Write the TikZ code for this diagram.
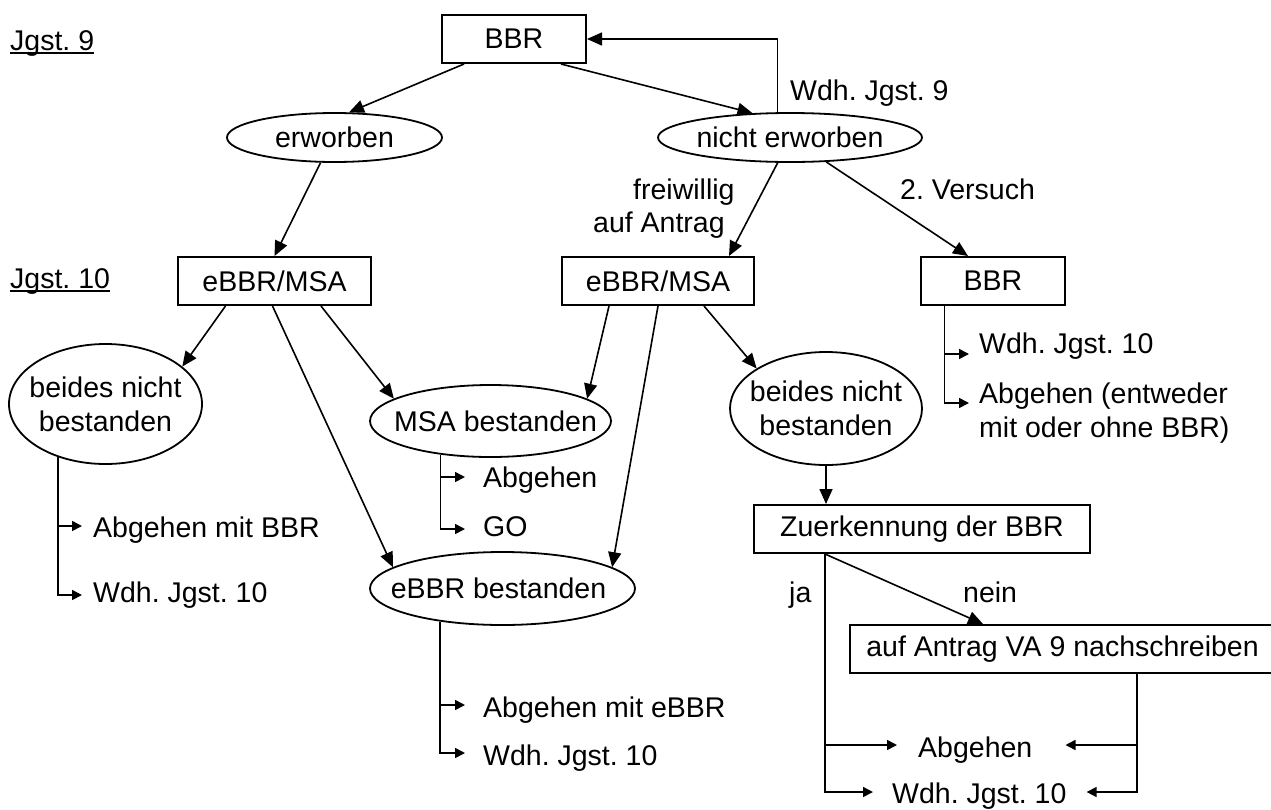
\documentclass[tikz,border=0pt]{standalone}
\usepackage{fontspec}
\setmainfont{Liberation Sans}
\usetikzlibrary{arrows.meta,shapes.geometric,calc}
\frenchspacing
\begin{document}
\begin{tikzpicture}[x=1pt,y=-1pt,
  font=\fontsize{28.5}{34}\selectfont\frenchspacing,
  box/.style={draw, line width=2pt, minimum height=48pt, inner sep=0pt},
  ell/.style={draw, ellipse, line width=1.8pt, inner xsep=-25pt, inner ysep=0pt, align=center},
  lbl/.style={inner sep=0pt, anchor=base west},
  arr/.style={line width=1.6pt, -{Triangle[length=15pt,width=13pt]}},
  br/.style={line width=1.6pt, -{Triangle[length=10pt,width=10pt]}},
  ln/.style={line width=1.6pt}]
\useasboundingbox (0,0) rectangle (1271,809);

% level labels
\node[lbl] (j9) at (10,50) {Jgst. 9};
\node[lbl] (j10) at (10,288) {Jgst. 10};
\draw[line width=2pt] ([yshift=-3pt]j9.base west) -- ([yshift=-3pt]j9.base east);
\draw[line width=2pt] ([yshift=-3pt]j10.base west) -- ([yshift=-3pt]j10.base east);

% boxes
\node[box, minimum width=144pt] (bbr) at (514,39) {BBR};
\node[box, minimum width=193pt] (emL) at (274.5,281) {eBBR/MSA};
\node[box, minimum width=192pt] (emM) at (658,281) {eBBR/MSA};
\node[box, minimum width=144pt] (bbrR) at (993,281) {BBR};
\node[box, minimum width=336pt] (zu) at (922,529) {Zuerkennung der BBR};
\node[box, minimum width=425pt] (va9) at (1062.5,649) {auf Antrag VA 9 nachschreiben};

% ellipses
\node[ell, minimum width=215pt, minimum height=49pt] (erw) at (334.5,137.5) {erworben};
\node[ell, minimum width=264pt, minimum height=49pt] (nerw) at (790,137.5) {nicht erworben};
\node[ell, minimum width=193pt, minimum height=120pt] (bnL) at (105.5,404) {beides nicht\\bestanden};
\node[ell, minimum width=241pt, minimum height=72pt] (msa) at (490.5,421) {\hspace{10pt}MSA bestanden};
\node[ell, minimum width=265pt, minimum height=73pt] (ebbr) at (502.5,588.5) {eBBR bestanden\hspace{8pt}};
\node[ell, minimum width=192pt, minimum height=113pt] (bnR) at (826,408.5) {beides nicht\\bestanden};

% edge labels
\node[lbl] (wdh9) at (790,100) {Wdh. Jgst. 9};
\node[lbl] (vers) at (900,199) {2. Versuch};
\node[lbl] (frw) at (633,199) {freiwillig};
\node[lbl] (aan) at (593,232) {auf Antrag};
\node[lbl] (ja) at (789,602) {ja};
\node[lbl] (nein) at (963,602) {nein};

% outcome labels
\node[lbl] (abgL) at (93,537) {Abgehen mit BBR};
\node[lbl] (wdhL) at (93,602) {Wdh. Jgst. 10};
\node[lbl] (abgM) at (483,487) {Abgehen};
\node[lbl] (go) at (483,536) {GO};
\node[lbl] (abgE) at (483,717) {Abgehen mit eBBR};
\node[lbl] (wdhE) at (483,765) {Wdh. Jgst. 10};
\node[lbl] (wdhR) at (979,353) {Wdh. Jgst. 10};
\node[lbl] (abgR) at (979,403) {Abgehen (entweder};
\node[lbl] (abgR2) at (979,437) {mit oder ohne BBR)};
\node[lbl] (abgB) at (918,757) {Abgehen};
\node[lbl] (wdhB) at (892,803) {Wdh. Jgst. 10};

% main connectors
\draw[arr] ([xshift=23pt]bbr.south west) -- (erw.60);
\draw[arr] ([xshift=120pt]bbr.south west) -- (nerw.147);
\draw[arr] (nerw.116) |- (bbr.east);
\draw[arr] (erw.-119) -- (emL.north);
\draw[arr] (nerw.-116) -- ([xshift=168pt]emM.north west);
\draw[arr] (nerw.-34) -- ([xshift=48pt]bbrR.north west);
\draw[arr] ([xshift=48.5pt]emL.south west) -- (bnL.26);
\draw[arr] ([xshift=95.5pt]emL.south west) -- (ebbr.169);
\draw[arr] ([xshift=144pt]emL.south west) -- (msa.167);
\draw[arr] ([xshift=48pt]emM.south west) -- (msa.13);
\draw[arr] (emM.south) -- (ebbr.11);
\draw[arr] ([xshift=143pt]emM.south west) -- (bnR.150);
\draw[arr] (bnR.south) -- (bnR.south |- zu.north);
\draw[arr] ([xshift=72pt]zu.south west) -- ([xshift=134pt]va9.north west);

% branch connectors
\draw[br] (bnL.-132) |- ([xshift=-11pt,yshift=11pt]abgL.base west);
\draw[br] (bnL.-132) |- ([xshift=-11pt,yshift=7pt]wdhL.base west);
\draw[br] (msa.-146) |- ([xshift=-18pt,yshift=10pt]abgM.base west);
\draw[br] (msa.-146) |- ([xshift=-18pt,yshift=7pt]go.base west);
\draw[br] (ebbr.-152) |- ([xshift=-18pt,yshift=12pt]abgE.base west);
\draw[br] (ebbr.-152) |- ([xshift=-18pt,yshift=12pt]wdhE.base west);
\draw[br] ([xshift=24.5pt]bbrR.south west) |- ([xshift=-10pt,yshift=-1pt]wdhR.base west);
\draw[br] ([xshift=24.5pt]bbrR.south west) |- ([xshift=-10pt]abgR.base west);
\draw[br] ([xshift=72pt]zu.south west) |- ([xshift=-21pt,yshift=12pt]abgB.base west);
\draw[br] ([xshift=72pt]zu.south west) |- ([xshift=-19pt,yshift=11pt]wdhB.base west);
\draw[br] ([xshift=288pt]va9.south west) |- ([xshift=33pt,yshift=12pt]abgB.base east);
\draw[br] ([xshift=288pt]va9.south west) |- ([xshift=20pt,yshift=11pt]wdhB.base east);
\end{tikzpicture}
\end{document}
